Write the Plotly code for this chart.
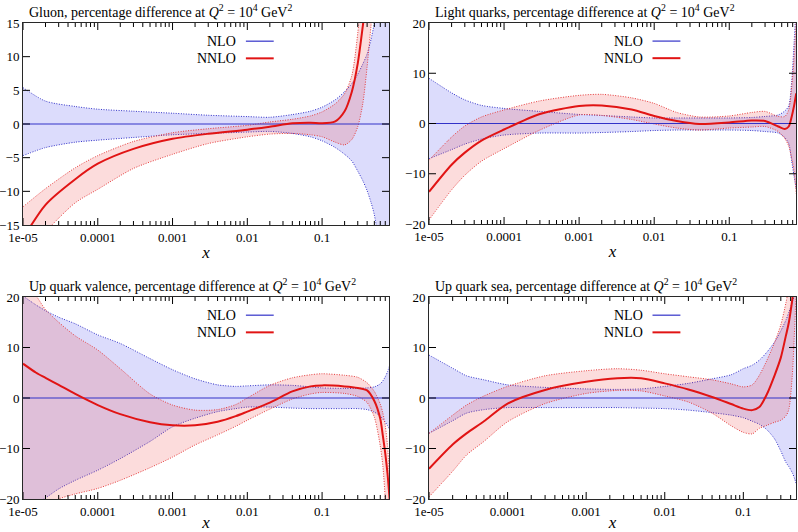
import math
import plotly.graph_objects as go
from plotly.subplots import make_subplots

# ---------- data (percentage difference relative to NLO central) ----------
# Gluon
x_gluon = [1e-5, 2e-5, 5e-5, 1e-4, 3e-4, 1e-3, 3e-3, 0.01, 0.02, 0.04, 0.07, 0.1,
           0.15, 0.2, 0.25, 0.3, 0.35, 0.4, 0.45, 0.5, 0.6, 0.7, 0.8]
gluon_nlo_up = [5.4, 3.4, 2.6, 2.2, 1.9, 1.6, 1.3, 1.1, 1.0, 1.4, 1.9, 2.5,
                3.6, 4.8, 6.0, 7.4, 8.9, 10.4, 12.5, 15.0, 21, 28, 35]
gluon_nlo_lo = [-4.7, -3.5, -2.7, -2.4, -2.0, -1.6, -1.4, -1.2, -1.1, -1.4, -1.9, -2.5,
                -3.5, -4.5, -5.5, -7.0, -8.4, -9.9, -11.6, -13.5, -19, -26, -34]
gluon_nnlo = [-17, -12, -8.2, -5.9, -3.7, -2.2, -1.45, -0.84, -0.4, 0.1, 0.2, 0.1,
              0.4, 1.9, 4.8, 9.0, 14.5, 20, 26, 32, 40, 48, 56]
gluon_nnlo_up = [-12.3, -9.6, -6.5, -4.7, -2.6, -1.3, -0.7, -0.2, 0.3, 0.7, 1.2, 1.8,
                 3.0, 4.5, 7.2, 13.5, 22, 30, 38, 46, 55, 65, 75]
gluon_nnlo_lo = [-20, -16, -11.7, -9.7, -6.6, -4.5, -2.9, -1.9, -1.5, -1.4, -1.6, -1.9,
                 -2.7, -3.1, -2.3, -0.4, 3.0, 8.5, 14.5, 20, 28, 36, 44]

# Light quarks
x_light = [1e-5, 2e-5, 3e-5, 5e-5, 1e-4, 3e-4, 1e-3, 2e-3, 5e-3, 0.01, 0.02, 0.04,
           0.1, 0.2, 0.3, 0.45, 0.55, 0.62, 0.68, 0.73, 0.78]
light_nlo_up = [9.0, 6.1, 4.7, 3.6, 3.0, 2.4, 1.8, 1.6, 1.3, 1.1, 1.1, 1.1,
                1.1, 1.2, 1.4, 1.7, 2.5, 3.5, 8.5, 16, 24]
light_nlo_lo = [-7.0, -5.2, -4.1, -3.1, -2.3, -1.9, -1.9, -1.8, -1.6, -1.4, -1.3, -1.3,
                -1.3, -1.4, -1.6, -1.9, -2.8, -4.0, -7.5, -10.5, -13]
light_nnlo = [-13.6, -8.2, -5.8, -3.4, -1.2, 1.9, 3.5, 3.6, 2.8, 1.5, 0.5, -0.1,
              0.2, 0.6, 0.5, -0.6, -1.1, -0.6, 1.4, 3.5, 6.0]
light_nnlo_up = [-7.3, -2.7, -0.5, 1.3, 2.7, 4.5, 5.6, 5.8, 5.1, 4.0, 2.2, 1.3,
                 1.5, 2.2, 2.4, 1.4, 1.4, 2.7, 7.4, 13, 21]
light_nnlo_lo = [-19.2, -13.2, -10.3, -7.5, -5.0, -1.3, 1.7, 1.6, 0.8, -0.1, -0.9, -1.3,
                 -0.9, -0.7, -0.6, -1.6, -3.0, -4.5, -7.0, -9.5, -14]

# Up quark valence
x_uval = [1e-5, 1.5e-5, 2e-5, 3e-5, 5e-5, 1e-4, 2e-4, 5e-4, 1e-3, 2e-3, 4e-3, 0.007, 0.01,
          0.02, 0.04, 0.07, 0.1, 0.2, 0.3, 0.4, 0.5, 0.6, 0.65, 0.7, 0.75, 0.8]
uval_nlo_up = [20.2, 18.4, 17.3, 16.0, 14.7, 12.5, 10.8, 7.8, 5.6, 3.8, 2.6, 2.3, 2.4,
               2.6, 2.5, 2.2, 2.0, 1.9, 1.9, 2.0, 2.2, 2.8, 3.4, 4.2, 5.2, 6.4]
uval_nlo_lo = [-23, -21, -19.8, -18, -16.3, -14.3, -12.0, -8.6, -5.7, -4.0, -2.7, -2.1, -1.8,
               -1.8, -2.0, -2.1, -2.1, -2.1, -2.1, -2.3, -2.8, -3.6, -4.2, -4.8, -5.5, -6.3]
uval_nnlo = [6.8, 5.0, 4.0, 2.6, 0.8, -1.4, -3.2, -4.8, -5.4, -5.4, -4.7, -3.6, -2.7,
             -0.9, 1.3, 2.3, 2.5, 2.3, 2.0, 1.5, -0.6, -4.1, -7.5, -11, -15, -20]
uval_nnlo_up = [23, 20.2, 17.5, 15.0, 12.3, 9.5, 5.8, 0.8, -1.4, -2.4, -2.3, -1.3, 0.0,
                2.5, 4.0, 4.6, 4.8, 4.5, 4.1, 3.0, 1.3, -1.2, -3.0, -5.5, -9.5, -16]
uval_nnlo_lo = [-25, -23, -21.5, -20, -19, -17.9, -16.3, -13.8, -11.7, -9.3, -7.3, -5.6, -4.4,
                -2.2, -0.2, 0.8, 1.1, 0.9, 0.3, -0.9, -3.8, -9.5, -13.5, -20, -28, -35]

# Up quark sea
x_usea = [1e-5, 2e-5, 3e-5, 5e-5, 1e-4, 3e-4, 1e-3, 2.5e-3, 5e-3, 0.01, 0.02, 0.04,
          0.07, 0.1, 0.13, 0.16, 0.2, 0.25, 0.3, 0.35, 0.38, 0.42, 0.45, 0.47]
usea_nlo_up = [8.5, 5.9, 4.4, 3.6, 2.6, 2.1, 1.8, 1.7, 1.8, 2.3, 2.9, 3.8,
               4.6, 5.8, 6.5, 7.5, 9.1, 11.1, 13.3, 15.5, 17, 19, 20.5, 21.5]
usea_nlo_lo = [-7.0, -4.5, -3.0, -2.3, -1.9, -1.9, -1.9, -1.9, -2.0, -2.1, -2.4, -2.9,
               -3.4, -3.9, -4.6, -5.2, -6.3, -8.1, -10.5, -12.8, -13.6, -14.8, -16, -17]
usea_nnlo = [-14, -9.2, -7.0, -4.6, -1.1, 1.6, 3.2, 3.9, 3.9, 2.9, 1.7, 0.2,
             -1.2, -2.1, -2.4, -1.8, 0.8, 4.5, 8.0, 12.5, 15, 19.5, 23, 25]
usea_nnlo_up = [-7, -3.4, -1.4, 0.4, 2.3, 4.4, 5.4, 5.8, 5.5, 4.8, 4.2, 3.6,
                2.8, 2.2, 2.6, 4.5, 7.5, 11, 14.5, 19, 22, 26, 29, 31]
usea_nnlo_lo = [-19.6, -14.5, -11.3, -8.6, -4.7, -1.1, 0.9, 1.5, 1.4, 0.4, -0.8, -3.0,
                -5.5, -6.8, -7.1, -6.0, -5.4, -4.8, -4.4, -3.5, -2.2, 4.5, 14, 21]

titles = ['Gluon', 'Light quarks', 'Up quark valence', 'Up quark sea']
x_ticks = [1e-5, 1e-4, 1e-3, 1e-2, 0.1]
x_ticktext = ['1e-05', '0.0001', '0.001', '0.01', '0.1']

panels = [
    dict(x=x_gluon, nlo_up=gluon_nlo_up, nlo_lo=gluon_nlo_lo, nnlo=gluon_nnlo,
         nnlo_up=gluon_nnlo_up, nnlo_lo=gluon_nnlo_lo, yr=[-15, 15], dy=5, xmax=0.785),
    dict(x=x_light, nlo_up=light_nlo_up, nlo_lo=light_nlo_lo, nnlo=light_nnlo,
         nnlo_up=light_nnlo_up, nnlo_lo=light_nnlo_lo, yr=[-20, 20], dy=10, xmax=0.775),
    dict(x=x_uval, nlo_up=uval_nlo_up, nlo_lo=uval_nlo_lo, nnlo=uval_nnlo,
         nnlo_up=uval_nnlo_up, nnlo_lo=uval_nnlo_lo, yr=[-20, 20], dy=10, xmax=0.785),
    dict(x=x_usea, nlo_up=usea_nlo_up, nlo_lo=usea_nlo_lo, nnlo=usea_nnlo,
         nnlo_up=usea_nnlo_up, nnlo_lo=usea_nnlo_lo, yr=[-20, 20], dy=10, xmax=0.468),
]

# ---------- styling ----------
FONT = 'Liberation Serif'
NLO_LINE = 'rgb(50,50,200)'
NLO_FILL = 'rgba(80,80,240,0.20)'
NNLO_LINE = 'rgb(225,20,20)'
NNLO_EDGE = 'rgb(230,60,60)'
NNLO_FILL = 'rgba(240,60,60,0.18)'
DOTS = '1px,1.5px'

W, H = 798, 532
# subplot boxes in pixels: (left, right, top, bottom)
boxes = [(23, 389, 23, 225), (429, 796, 23, 224), (23, 389, 297, 499), (429, 796, 297, 499)]

fig = make_subplots(rows=2, cols=2)
SM = 0.75
shapes = []

for i, p in enumerate(panels):
    r, c = i // 2 + 1, i % 2 + 1
    x = p['x']
    left, right, top, bottom = boxes[i]
    pw, ph = right - left, bottom - top
    xrange_log = [-5, math.log10(p['xmax'])]
    ymin, ymax = p['yr']

    # NLO band
    fig.add_trace(go.Scatter(x=x, y=p['nlo_lo'], mode='lines', line=dict(color=NLO_LINE, width=1, dash=DOTS,
                             shape='spline', smoothing=SM), showlegend=False, hoverinfo='skip'), row=r, col=c)
    fig.add_trace(go.Scatter(x=x, y=p['nlo_up'], mode='lines', fill='tonexty', fillcolor=NLO_FILL,
                             line=dict(color=NLO_LINE, width=1, dash=DOTS, shape='spline', smoothing=SM),
                             showlegend=False, hoverinfo='skip'), row=r, col=c)
    # NNLO band
    fig.add_trace(go.Scatter(x=x, y=p['nnlo_lo'], mode='lines', line=dict(color=NNLO_EDGE, width=1, dash=DOTS,
                             shape='spline', smoothing=SM), showlegend=False, hoverinfo='skip'), row=r, col=c)
    fig.add_trace(go.Scatter(x=x, y=p['nnlo_up'], mode='lines', fill='tonexty', fillcolor=NNLO_FILL,
                             line=dict(color=NNLO_EDGE, width=1, dash=DOTS, shape='spline', smoothing=SM),
                             showlegend=False, hoverinfo='skip'), row=r, col=c)
    # NLO central (reference, zero) and NNLO central
    fig.add_trace(go.Scatter(x=x, y=[0.0] * len(x), mode='lines', line=dict(color=NLO_LINE, width=1.2),
                             name='NLO', showlegend=False), row=r, col=c)
    fig.add_trace(go.Scatter(x=x, y=p['nnlo'], mode='lines',
                             line=dict(color=NNLO_LINE, width=2, shape='spline', smoothing=SM),
                             name='NNLO', showlegend=False), row=r, col=c)

    # gnuplot-style inward ticks on all four sides, as one line trace of short segments
    tx, ty = [], []
    yspan = ymax - ymin
    for e in range(-5, 0):
        for m in range(1, 10):
            xv = m * 10.0 ** e
            if math.log10(xv) > xrange_log[1]:
                continue
            tl = (7 if m == 1 else 4) / ph * yspan
            tx += [xv, xv, None, xv, xv, None]
            ty += [ymin, ymin + tl, None, ymax, ymax - tl, None]
    xspan = xrange_log[1] - xrange_log[0]
    x_in_left = 10 ** (xrange_log[0] + 7 / pw * xspan)
    x_in_right = 10 ** (xrange_log[1] - 7 / pw * xspan)
    yv = ymin + p['dy']
    while yv < ymax:
        tx += [10 ** xrange_log[0], x_in_left, None, 10 ** xrange_log[1], x_in_right, None]
        ty += [yv, yv, None, yv, yv, None]
        yv += p['dy']
    fig.add_trace(go.Scatter(x=tx, y=ty, mode='lines', line=dict(color='black', width=1),
                             showlegend=False, hoverinfo='skip'), row=r, col=c)

    xdom = [left / W, right / W]
    ydom = [1 - bottom / H, 1 - top / H]
    axis_common = dict(showline=True, linecolor='rgb(40,40,40)', linewidth=1, mirror=True, automargin=False,
                       ticks='', showgrid=False, zeroline=False,
                       tickfont=dict(family=FONT, size=13, color='black'))
    fig.update_xaxes(type='log', range=xrange_log, domain=xdom,
                     tickmode='array', tickvals=x_ticks, ticktext=x_ticktext,
                     title=dict(text='<i>x</i>', font=dict(family=FONT, size=17, color='black'), standoff=2),
                     row=r, col=c, **axis_common)
    fig.update_yaxes(range=p['yr'], dtick=p['dy'], domain=ydom, row=r, col=c, **axis_common)

    sfx = '' if i == 0 else str(i + 1)
    xdref, ydref = 'x' + sfx + ' domain', 'y' + sfx + ' domain'

    # panel title
    fig.add_annotation(text=titles[i] + ', percentage difference at <i>Q</i><sup>2</sup> = 10<sup>4</sup> GeV<sup>2</sup>',
                       xref=xdref, yref=ydref, x=0.012, y=1, xanchor='left', yanchor='bottom', yshift=1,
                       showarrow=False, font=dict(family=FONT, size=14, color='black'))
    # legend drawn inside the panel (gnuplot style: text then sample)
    for label, ly, col, lw in [('NLO', 0.91, NLO_LINE, 1.2), ('NNLO', 0.825, NNLO_LINE, 2)]:
        fig.add_annotation(text=label, xref=xdref, yref=ydref, x=0.588, y=ly, xanchor='right', yanchor='middle',
                           showarrow=False, font=dict(family=FONT, size=14, color='black'))
        shapes.append(dict(type='line', xref=xdref, yref=ydref, x0=0.609, x1=0.685, y0=ly, y1=ly,
                           line=dict(color=col, width=lw)))

fig.update_layout(width=W, height=H, margin=dict(l=0, r=0, t=0, b=0), shapes=shapes,
                  plot_bgcolor='white', paper_bgcolor='white',
                  font=dict(family=FONT, size=13, color='black'), showlegend=False)

# drop the browser's default 8px body margin so the figure fills the window
fig.write_html('out.html', config={'displayModeBar': False},
               post_script="document.body.style.margin='0';")
